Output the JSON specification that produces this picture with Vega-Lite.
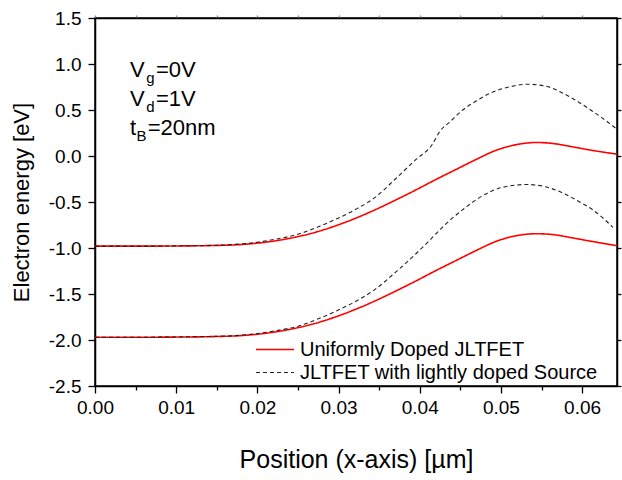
{
  "$schema": "https://vega.github.io/schema/vega-lite/v6.json",
  "width": 522,
  "height": 368,
  "autosize": "none",
  "padding": {"left": 95, "top": 18, "right": 5, "bottom": 94},
  "background": "white",
  "config": {
    "view": {"stroke": "black", "strokeWidth": 1.5},
    "font": "Liberation Sans",
    "axis": {
      "labelFont": "Liberation Sans",
      "titleFont": "Liberation Sans",
      "labelColor": "black",
      "titleColor": "black",
      "domainColor": "black",
      "tickColor": "black",
      "titleFontWeight": "normal",
      "grid": false,
      "domainWidth": 1.5,
      "tickWidth": 1.3
    },
    "legend": {
      "labelFont": "Liberation Sans",
      "labelFontSize": 20,
      "labelColor": "black",
      "labelLimit": 500
    }
  },
  "datasets": {
    "curves": [
      {"device": "Uniformly Doped JLTFET", "band": "CB", "x": 0, "y": -0.98},
      {"device": "Uniformly Doped JLTFET", "band": "CB", "x": 0.005, "y": -0.98},
      {"device": "Uniformly Doped JLTFET", "band": "CB", "x": 0.01, "y": -0.978},
      {"device": "Uniformly Doped JLTFET", "band": "CB", "x": 0.015, "y": -0.972},
      {"device": "Uniformly Doped JLTFET", "band": "CB", "x": 0.018, "y": -0.962},
      {"device": "Uniformly Doped JLTFET", "band": "CB", "x": 0.02, "y": -0.947},
      {"device": "Uniformly Doped JLTFET", "band": "CB", "x": 0.0222, "y": -0.922},
      {"device": "Uniformly Doped JLTFET", "band": "CB", "x": 0.025, "y": -0.876},
      {"device": "Uniformly Doped JLTFET", "band": "CB", "x": 0.0275, "y": -0.82},
      {"device": "Uniformly Doped JLTFET", "band": "CB", "x": 0.0296, "y": -0.76},
      {"device": "Uniformly Doped JLTFET", "band": "CB", "x": 0.032, "y": -0.68},
      {"device": "Uniformly Doped JLTFET", "band": "CB", "x": 0.0345, "y": -0.585},
      {"device": "Uniformly Doped JLTFET", "band": "CB", "x": 0.037, "y": -0.48},
      {"device": "Uniformly Doped JLTFET", "band": "CB", "x": 0.0395, "y": -0.37},
      {"device": "Uniformly Doped JLTFET", "band": "CB", "x": 0.042, "y": -0.255},
      {"device": "Uniformly Doped JLTFET", "band": "CB", "x": 0.0445, "y": -0.145},
      {"device": "Uniformly Doped JLTFET", "band": "CB", "x": 0.047, "y": -0.035},
      {"device": "Uniformly Doped JLTFET", "band": "CB", "x": 0.0495, "y": 0.065},
      {"device": "Uniformly Doped JLTFET", "band": "CB", "x": 0.052, "y": 0.125},
      {"device": "Uniformly Doped JLTFET", "band": "CB", "x": 0.0544, "y": 0.147},
      {"device": "Uniformly Doped JLTFET", "band": "CB", "x": 0.0565, "y": 0.135},
      {"device": "Uniformly Doped JLTFET", "band": "CB", "x": 0.0585, "y": 0.105},
      {"device": "Uniformly Doped JLTFET", "band": "CB", "x": 0.061, "y": 0.065},
      {"device": "Uniformly Doped JLTFET", "band": "CB", "x": 0.0643, "y": 0.02},
      {"device": "Uniformly Doped JLTFET", "band": "VB", "x": 0, "y": -1.97},
      {"device": "Uniformly Doped JLTFET", "band": "VB", "x": 0.005, "y": -1.97},
      {"device": "Uniformly Doped JLTFET", "band": "VB", "x": 0.01, "y": -1.968},
      {"device": "Uniformly Doped JLTFET", "band": "VB", "x": 0.015, "y": -1.962},
      {"device": "Uniformly Doped JLTFET", "band": "VB", "x": 0.018, "y": -1.952},
      {"device": "Uniformly Doped JLTFET", "band": "VB", "x": 0.02, "y": -1.937},
      {"device": "Uniformly Doped JLTFET", "band": "VB", "x": 0.0222, "y": -1.912},
      {"device": "Uniformly Doped JLTFET", "band": "VB", "x": 0.025, "y": -1.866},
      {"device": "Uniformly Doped JLTFET", "band": "VB", "x": 0.0275, "y": -1.81},
      {"device": "Uniformly Doped JLTFET", "band": "VB", "x": 0.0296, "y": -1.75},
      {"device": "Uniformly Doped JLTFET", "band": "VB", "x": 0.032, "y": -1.67},
      {"device": "Uniformly Doped JLTFET", "band": "VB", "x": 0.0345, "y": -1.575},
      {"device": "Uniformly Doped JLTFET", "band": "VB", "x": 0.037, "y": -1.47},
      {"device": "Uniformly Doped JLTFET", "band": "VB", "x": 0.0395, "y": -1.36},
      {"device": "Uniformly Doped JLTFET", "band": "VB", "x": 0.042, "y": -1.245},
      {"device": "Uniformly Doped JLTFET", "band": "VB", "x": 0.0445, "y": -1.135},
      {"device": "Uniformly Doped JLTFET", "band": "VB", "x": 0.047, "y": -1.025},
      {"device": "Uniformly Doped JLTFET", "band": "VB", "x": 0.0495, "y": -0.925},
      {"device": "Uniformly Doped JLTFET", "band": "VB", "x": 0.052, "y": -0.865},
      {"device": "Uniformly Doped JLTFET", "band": "VB", "x": 0.0544, "y": -0.845},
      {"device": "Uniformly Doped JLTFET", "band": "VB", "x": 0.0565, "y": -0.855},
      {"device": "Uniformly Doped JLTFET", "band": "VB", "x": 0.0585, "y": -0.885},
      {"device": "Uniformly Doped JLTFET", "band": "VB", "x": 0.061, "y": -0.925},
      {"device": "Uniformly Doped JLTFET", "band": "VB", "x": 0.0643, "y": -0.975},
      {"device": "JLTFET with lightly doped Source", "band": "CB", "x": 0, "y": -0.98},
      {"device": "JLTFET with lightly doped Source", "band": "CB", "x": 0.005, "y": -0.98},
      {"device": "JLTFET with lightly doped Source", "band": "CB", "x": 0.01, "y": -0.977},
      {"device": "JLTFET with lightly doped Source", "band": "CB", "x": 0.015, "y": -0.97},
      {"device": "JLTFET with lightly doped Source", "band": "CB", "x": 0.018, "y": -0.956},
      {"device": "JLTFET with lightly doped Source", "band": "CB", "x": 0.02, "y": -0.937},
      {"device": "JLTFET with lightly doped Source", "band": "CB", "x": 0.0222, "y": -0.905},
      {"device": "JLTFET with lightly doped Source", "band": "CB", "x": 0.025, "y": -0.85},
      {"device": "JLTFET with lightly doped Source", "band": "CB", "x": 0.0275, "y": -0.77},
      {"device": "JLTFET with lightly doped Source", "band": "CB", "x": 0.0296, "y": -0.69},
      {"device": "JLTFET with lightly doped Source", "band": "CB", "x": 0.032, "y": -0.585},
      {"device": "JLTFET with lightly doped Source", "band": "CB", "x": 0.0345, "y": -0.45},
      {"device": "JLTFET with lightly doped Source", "band": "CB", "x": 0.037, "y": -0.25},
      {"device": "JLTFET with lightly doped Source", "band": "CB", "x": 0.0395, "y": -0.04},
      {"device": "JLTFET with lightly doped Source", "band": "CB", "x": 0.0415, "y": 0.12},
      {"device": "JLTFET with lightly doped Source", "band": "CB", "x": 0.0425, "y": 0.27},
      {"device": "JLTFET with lightly doped Source", "band": "CB", "x": 0.0437, "y": 0.37},
      {"device": "JLTFET with lightly doped Source", "band": "CB", "x": 0.0453, "y": 0.5},
      {"device": "JLTFET with lightly doped Source", "band": "CB", "x": 0.047, "y": 0.6},
      {"device": "JLTFET with lightly doped Source", "band": "CB", "x": 0.0486, "y": 0.68},
      {"device": "JLTFET with lightly doped Source", "band": "CB", "x": 0.051, "y": 0.75},
      {"device": "JLTFET with lightly doped Source", "band": "CB", "x": 0.0532, "y": 0.78},
      {"device": "JLTFET with lightly doped Source", "band": "CB", "x": 0.0555, "y": 0.76},
      {"device": "JLTFET with lightly doped Source", "band": "CB", "x": 0.0577, "y": 0.68},
      {"device": "JLTFET with lightly doped Source", "band": "CB", "x": 0.0595, "y": 0.59},
      {"device": "JLTFET with lightly doped Source", "band": "CB", "x": 0.0614, "y": 0.48},
      {"device": "JLTFET with lightly doped Source", "band": "CB", "x": 0.063, "y": 0.38},
      {"device": "JLTFET with lightly doped Source", "band": "CB", "x": 0.0643, "y": 0.29},
      {"device": "JLTFET with lightly doped Source", "band": "VB", "x": 0, "y": -1.97},
      {"device": "JLTFET with lightly doped Source", "band": "VB", "x": 0.005, "y": -1.97},
      {"device": "JLTFET with lightly doped Source", "band": "VB", "x": 0.01, "y": -1.967},
      {"device": "JLTFET with lightly doped Source", "band": "VB", "x": 0.015, "y": -1.96},
      {"device": "JLTFET with lightly doped Source", "band": "VB", "x": 0.018, "y": -1.948},
      {"device": "JLTFET with lightly doped Source", "band": "VB", "x": 0.02, "y": -1.93},
      {"device": "JLTFET with lightly doped Source", "band": "VB", "x": 0.0222, "y": -1.9},
      {"device": "JLTFET with lightly doped Source", "band": "VB", "x": 0.025, "y": -1.85},
      {"device": "JLTFET with lightly doped Source", "band": "VB", "x": 0.0275, "y": -1.77},
      {"device": "JLTFET with lightly doped Source", "band": "VB", "x": 0.0296, "y": -1.69},
      {"device": "JLTFET with lightly doped Source", "band": "VB", "x": 0.032, "y": -1.585},
      {"device": "JLTFET with lightly doped Source", "band": "VB", "x": 0.0345, "y": -1.45},
      {"device": "JLTFET with lightly doped Source", "band": "VB", "x": 0.037, "y": -1.265},
      {"device": "JLTFET with lightly doped Source", "band": "VB", "x": 0.0395, "y": -1.065},
      {"device": "JLTFET with lightly doped Source", "band": "VB", "x": 0.0413, "y": -0.91},
      {"device": "JLTFET with lightly doped Source", "band": "VB", "x": 0.0425, "y": -0.8},
      {"device": "JLTFET with lightly doped Source", "band": "VB", "x": 0.0437, "y": -0.7},
      {"device": "JLTFET with lightly doped Source", "band": "VB", "x": 0.0455, "y": -0.57},
      {"device": "JLTFET with lightly doped Source", "band": "VB", "x": 0.0474, "y": -0.45},
      {"device": "JLTFET with lightly doped Source", "band": "VB", "x": 0.05, "y": -0.345},
      {"device": "JLTFET with lightly doped Source", "band": "VB", "x": 0.0532, "y": -0.31},
      {"device": "JLTFET with lightly doped Source", "band": "VB", "x": 0.0555, "y": -0.335},
      {"device": "JLTFET with lightly doped Source", "band": "VB", "x": 0.0577, "y": -0.405},
      {"device": "JLTFET with lightly doped Source", "band": "VB", "x": 0.0595, "y": -0.49},
      {"device": "JLTFET with lightly doped Source", "band": "VB", "x": 0.0614, "y": -0.59},
      {"device": "JLTFET with lightly doped Source", "band": "VB", "x": 0.0638, "y": -0.775}
    ],
    "annMain": [
      {"x": 0.0043, "y": 0.859, "label": "V"},
      {"x": 0.0043, "y": 0.543, "label": "V"},
      {"x": 0.0043, "y": 0.228, "label": "t"}
    ],
    "annSub": [
      {"x": 0.0063, "y": 0.859, "label": "g"},
      {"x": 0.0063, "y": 0.543, "label": "d"},
      {"x": 0.0051, "y": 0.228, "label": "B"}
    ],
    "annRest": [
      {"x": 0.0075, "y": 0.859, "label": "=0V"},
      {"x": 0.0075, "y": 0.543, "label": "=1V"},
      {"x": 0.0065, "y": 0.228, "label": "=20nm"}
    ]
  },
  "layer": [
    {
      "data": {"name": "curves"},
      "mark": {"type": "line", "interpolate": "monotone", "clip": true},
      "encoding": {
        "x": {
          "field": "x", "type": "quantitative",
          "scale": {"domain": [0, 0.0643], "nice": false, "zero": false},
          "axis": {
            "orient": "bottom",
            "title": "Position (x-axis) [µm]",
            "titleFontSize": 25,
            "titlePadding": 30,
            "values": [0, 0.005, 0.01, 0.015, 0.02, 0.025, 0.03, 0.035, 0.04, 0.045, 0.05, 0.055, 0.06],
            "labelExpr": "round(datum.value*1000) % 10 == 0 ? format(datum.value, '.2f') : ''",
            "tickSize": {"condition": {"test": "round(datum.value*1000) % 10 == 0", "value": 7}, "value": 4},
            "labelFontSize": 19,
            "labelPadding": 5,
            "labelFlush": false,
            "labelOverlap": false
          }
        },
        "y": {
          "field": "y", "type": "quantitative",
          "scale": {"domain": [-2.5, 1.5], "nice": false, "zero": false},
          "axis": {
            "orient": "left",
            "title": "Electron energy [eV]",
            "titleFontSize": 22,
            "titlePadding": 15,
            "values": [-2.5, -2, -1.5, -1, -0.5, 0, 0.5, 1, 1.5],
            "labelExpr": "datum.value < 0 ? '-' + format(-datum.value, '.1f') : format(datum.value, '.1f')",
            "tickSize": 7,
            "labelFontSize": 19,
            "labelPadding": 7,
            "labelFlush": false,
            "labelOverlap": false
          }
        },
        "color": {
          "field": "device", "type": "nominal",
          "scale": {"domain": ["Uniformly Doped JLTFET", "JLTFET with lightly doped Source"], "range": ["#ff0000", "#222222"]},
          "legend": {
            "title": null,
            "orient": "none",
            "legendX": 160,
            "legendY": 320,
            "symbolType": "stroke",
            "symbolSize": 1444,
            "symbolStrokeWidth": 1.5,
            "labelOffset": 5,
            "clipHeight": 23,
            "rowPadding": 0,
            "padding": 0
          }
        },
        "strokeDash": {
          "field": "device", "type": "nominal",
          "scale": {"domain": ["Uniformly Doped JLTFET", "JLTFET with lightly doped Source"], "range": [[1, 0], [4, 3]]},
          "legend": {
            "title": null,
            "orient": "none",
            "legendX": 160,
            "legendY": 320,
            "symbolType": "stroke",
            "symbolSize": 1444,
            "symbolStrokeWidth": 1.5,
            "labelOffset": 5,
            "clipHeight": 23,
            "rowPadding": 0,
            "padding": 0
          }
        },
        "strokeWidth": {
          "field": "device", "type": "nominal",
          "scale": {"domain": ["Uniformly Doped JLTFET", "JLTFET with lightly doped Source"], "range": [1.6, 1.1]},
          "legend": null
        },
        "detail": {"field": "band"}
      }
    },
    {
      "data": {"name": "curves"},
      "mark": {"type": "line", "opacity": 0},
      "encoding": {
        "x": {
          "field": "x", "type": "quantitative",
          "axis": {
            "orient": "top", "title": null, "labels": false, "tickSize": 3, "tickColor": "#888888",
            "values": [0, 0.005, 0.01, 0.015, 0.02, 0.025, 0.03, 0.035, 0.04, 0.045, 0.05, 0.055, 0.06]
          }
        },
        "y": {
          "field": "y", "type": "quantitative",
          "axis": {
            "orient": "right", "title": null, "labels": false, "tickSize": 4,
            "values": [-2.5, -2, -1.5, -1, -0.5, 0, 0.5, 1, 1.5]
          }
        },
        "detail": {"field": "band"}
      }
    },
    {
      "data": {"name": "annMain"},
      "mark": {"type": "text", "font": "Liberation Sans", "fontSize": 22, "align": "left", "baseline": "alphabetic", "color": "black"},
      "encoding": {
        "x": {"field": "x", "type": "quantitative", "axis": null},
        "y": {"field": "y", "type": "quantitative", "axis": null},
        "text": {"field": "label"}
      }
    },
    {
      "data": {"name": "annSub"},
      "mark": {"type": "text", "font": "Liberation Sans", "fontSize": 15, "align": "left", "baseline": "alphabetic", "dy": 6, "color": "black"},
      "encoding": {
        "x": {"field": "x", "type": "quantitative", "axis": null},
        "y": {"field": "y", "type": "quantitative", "axis": null},
        "text": {"field": "label"}
      }
    },
    {
      "data": {"name": "annRest"},
      "mark": {"type": "text", "font": "Liberation Sans", "fontSize": 22, "align": "left", "baseline": "alphabetic", "color": "black"},
      "encoding": {
        "x": {"field": "x", "type": "quantitative", "axis": null},
        "y": {"field": "y", "type": "quantitative", "axis": null},
        "text": {"field": "label"}
      }
    }
  ],
  "resolve": {"axis": {"x": "independent", "y": "independent"}}
}
